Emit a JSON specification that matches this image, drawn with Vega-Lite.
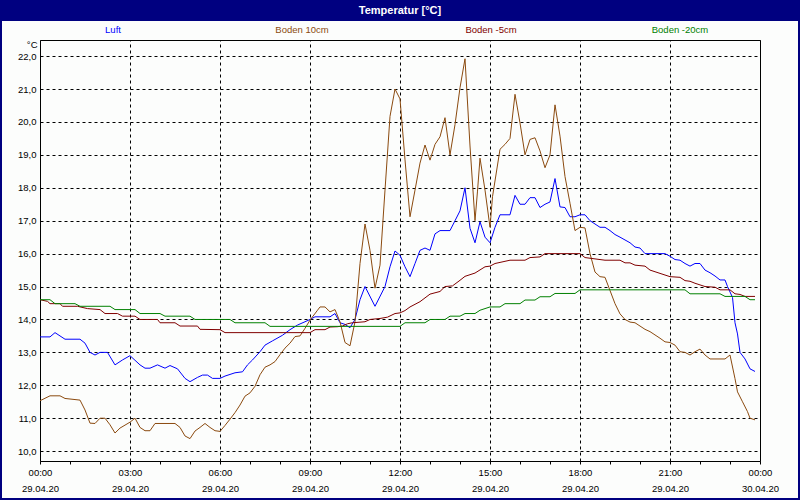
{
"$schema": "https://vega.github.io/schema/vega-lite/v6.json",
"autosize": {"type": "none"},
"width": 796, "height": 477,
"padding": {"left": 2, "top": 21, "right": 2, "bottom": 2},
"background": "#000080",
"title": {"text": "Temperatur [°C]", "color": "#ffffff", "font": "Liberation Sans", "fontSize": 11, "fontWeight": "bold", "anchor": "middle", "frame": "group", "baseline": "middle", "offset": -32},
"config": {"view": {"fill": "#fcfdfc", "stroke": null}, "font": "Liberation Sans"},
"data": {"values": [
{"t":"2020-04-29T00:00","s":"Luft","v":13.47},{"t":"2020-04-29T00:20","s":"Luft","v":13.47},{"t":"2020-04-29T00:30","s":"Luft","v":13.6},{"t":"2020-04-29T00:50","s":"Luft","v":13.4},{"t":"2020-04-29T01:20","s":"Luft","v":13.4},{"t":"2020-04-29T01:30","s":"Luft","v":13.28},{"t":"2020-04-29T01:40","s":"Luft","v":13.0},{"t":"2020-04-29T01:50","s":"Luft","v":12.92},{"t":"2020-04-29T02:00","s":"Luft","v":13.0},{"t":"2020-04-29T02:15","s":"Luft","v":13.0},{"t":"2020-04-29T02:30","s":"Luft","v":12.62},{"t":"2020-04-29T02:45","s":"Luft","v":12.77},{"t":"2020-04-29T03:00","s":"Luft","v":12.9},{"t":"2020-04-29T03:20","s":"Luft","v":12.62},{"t":"2020-04-29T03:30","s":"Luft","v":12.52},{"t":"2020-04-29T03:40","s":"Luft","v":12.52},{"t":"2020-04-29T03:55","s":"Luft","v":12.62},{"t":"2020-04-29T04:10","s":"Luft","v":12.52},{"t":"2020-04-29T04:20","s":"Luft","v":12.6},{"t":"2020-04-29T04:35","s":"Luft","v":12.5},{"t":"2020-04-29T04:50","s":"Luft","v":12.21},{"t":"2020-04-29T05:00","s":"Luft","v":12.11},{"t":"2020-04-29T05:15","s":"Luft","v":12.24},{"t":"2020-04-29T05:25","s":"Luft","v":12.31},{"t":"2020-04-29T05:35","s":"Luft","v":12.31},{"t":"2020-04-29T05:45","s":"Luft","v":12.21},{"t":"2020-04-29T06:00","s":"Luft","v":12.21},{"t":"2020-04-29T06:10","s":"Luft","v":12.28},{"t":"2020-04-29T06:30","s":"Luft","v":12.38},{"t":"2020-04-29T06:45","s":"Luft","v":12.41},{"t":"2020-04-29T06:55","s":"Luft","v":12.62},{"t":"2020-04-29T07:05","s":"Luft","v":12.77},{"t":"2020-04-29T07:20","s":"Luft","v":13.02},{"t":"2020-04-29T07:30","s":"Luft","v":13.22},{"t":"2020-04-29T07:45","s":"Luft","v":13.35},{"t":"2020-04-29T08:05","s":"Luft","v":13.52},{"t":"2020-04-29T08:20","s":"Luft","v":13.69},{"t":"2020-04-29T08:35","s":"Luft","v":13.83},{"t":"2020-04-29T08:50","s":"Luft","v":13.93},{"t":"2020-04-29T09:00","s":"Luft","v":14.0},{"t":"2020-04-29T09:10","s":"Luft","v":14.08},{"t":"2020-04-29T09:40","s":"Luft","v":14.08},{"t":"2020-04-29T09:50","s":"Luft","v":14.18},{"t":"2020-04-29T10:00","s":"Luft","v":13.9},{"t":"2020-04-29T10:10","s":"Luft","v":13.85},{"t":"2020-04-29T10:20","s":"Luft","v":13.75},{"t":"2020-04-29T10:30","s":"Luft","v":14.0},{"t":"2020-04-29T10:40","s":"Luft","v":14.6},{"t":"2020-04-29T10:50","s":"Luft","v":15.0},{"t":"2020-04-29T11:10","s":"Luft","v":14.4},{"t":"2020-04-29T11:30","s":"Luft","v":15.0},{"t":"2020-04-29T11:40","s":"Luft","v":15.6},{"t":"2020-04-29T11:50","s":"Luft","v":16.08},{"t":"2020-04-29T12:00","s":"Luft","v":15.95},{"t":"2020-04-29T12:10","s":"Luft","v":15.6},{"t":"2020-04-29T12:20","s":"Luft","v":15.3},{"t":"2020-04-29T12:30","s":"Luft","v":15.7},{"t":"2020-04-29T12:40","s":"Luft","v":16.1},{"t":"2020-04-29T12:50","s":"Luft","v":16.17},{"t":"2020-04-29T13:00","s":"Luft","v":16.1},{"t":"2020-04-29T13:10","s":"Luft","v":16.6},{"t":"2020-04-29T13:20","s":"Luft","v":16.7},{"t":"2020-04-29T13:40","s":"Luft","v":16.7},{"t":"2020-04-29T13:50","s":"Luft","v":17.0},{"t":"2020-04-29T14:00","s":"Luft","v":17.3},{"t":"2020-04-29T14:10","s":"Luft","v":18.0},{"t":"2020-04-29T14:20","s":"Luft","v":16.77},{"t":"2020-04-29T14:30","s":"Luft","v":16.33},{"t":"2020-04-29T14:40","s":"Luft","v":16.97},{"t":"2020-04-29T14:50","s":"Luft","v":16.5},{"t":"2020-04-29T15:00","s":"Luft","v":16.33},{"t":"2020-04-29T15:10","s":"Luft","v":16.8},{"t":"2020-04-29T15:20","s":"Luft","v":17.18},{"t":"2020-04-29T15:40","s":"Luft","v":17.18},{"t":"2020-04-29T15:50","s":"Luft","v":17.77},{"t":"2020-04-29T16:00","s":"Luft","v":17.5},{"t":"2020-04-29T16:10","s":"Luft","v":17.5},{"t":"2020-04-29T16:20","s":"Luft","v":17.7},{"t":"2020-04-29T16:30","s":"Luft","v":17.7},{"t":"2020-04-29T16:40","s":"Luft","v":17.4},{"t":"2020-04-29T16:50","s":"Luft","v":17.5},{"t":"2020-04-29T17:00","s":"Luft","v":17.57},{"t":"2020-04-29T17:10","s":"Luft","v":18.28},{"t":"2020-04-29T17:20","s":"Luft","v":17.42},{"t":"2020-04-29T17:30","s":"Luft","v":17.4},{"t":"2020-04-29T17:40","s":"Luft","v":17.12},{"t":"2020-04-29T17:50","s":"Luft","v":17.12},{"t":"2020-04-29T18:00","s":"Luft","v":17.18},{"t":"2020-04-29T18:10","s":"Luft","v":17.18},{"t":"2020-04-29T18:20","s":"Luft","v":17.0},{"t":"2020-04-29T18:40","s":"Luft","v":16.8},{"t":"2020-04-29T18:50","s":"Luft","v":16.8},{"t":"2020-04-29T19:00","s":"Luft","v":16.7},{"t":"2020-04-29T19:10","s":"Luft","v":16.58},{"t":"2020-04-29T19:20","s":"Luft","v":16.5},{"t":"2020-04-29T19:40","s":"Luft","v":16.33},{"t":"2020-04-29T19:50","s":"Luft","v":16.2},{"t":"2020-04-29T20:00","s":"Luft","v":16.17},{"t":"2020-04-29T20:10","s":"Luft","v":16.0},{"t":"2020-04-29T20:50","s":"Luft","v":16.0},{"t":"2020-04-29T21:00","s":"Luft","v":15.92},{"t":"2020-04-29T21:10","s":"Luft","v":15.82},{"t":"2020-04-29T21:20","s":"Luft","v":15.8},{"t":"2020-04-29T21:30","s":"Luft","v":15.7},{"t":"2020-04-29T21:40","s":"Luft","v":15.62},{"t":"2020-04-29T21:50","s":"Luft","v":15.7},{"t":"2020-04-29T22:00","s":"Luft","v":15.7},{"t":"2020-04-29T22:10","s":"Luft","v":15.5},{"t":"2020-04-29T22:20","s":"Luft","v":15.42},{"t":"2020-04-29T22:30","s":"Luft","v":15.32},{"t":"2020-04-29T22:40","s":"Luft","v":15.2},{"t":"2020-04-29T22:50","s":"Luft","v":15.2},{"t":"2020-04-29T22:55","s":"Luft","v":15.0},{"t":"2020-04-29T23:05","s":"Luft","v":14.67},{"t":"2020-04-29T23:10","s":"Luft","v":13.9},{"t":"2020-04-29T23:15","s":"Luft","v":13.56},{"t":"2020-04-29T23:20","s":"Luft","v":13.0},{"t":"2020-04-29T23:30","s":"Luft","v":12.8},{"t":"2020-04-29T23:40","s":"Luft","v":12.5},{"t":"2020-04-29T23:50","s":"Luft","v":12.42},
{"t":"2020-04-29T00:00","s":"Boden 10cm","v":11.53},{"t":"2020-04-29T00:20","s":"Boden 10cm","v":11.68},{"t":"2020-04-29T00:40","s":"Boden 10cm","v":11.68},{"t":"2020-04-29T00:50","s":"Boden 10cm","v":11.6},{"t":"2020-04-29T01:20","s":"Boden 10cm","v":11.55},{"t":"2020-04-29T01:30","s":"Boden 10cm","v":11.25},{"t":"2020-04-29T01:40","s":"Boden 10cm","v":10.85},{"t":"2020-04-29T01:50","s":"Boden 10cm","v":10.84},{"t":"2020-04-29T02:00","s":"Boden 10cm","v":11.0},{"t":"2020-04-29T02:10","s":"Boden 10cm","v":11.0},{"t":"2020-04-29T02:20","s":"Boden 10cm","v":10.8},{"t":"2020-04-29T02:30","s":"Boden 10cm","v":10.55},{"t":"2020-04-29T02:40","s":"Boden 10cm","v":10.7},{"t":"2020-04-29T03:00","s":"Boden 10cm","v":10.88},{"t":"2020-04-29T03:10","s":"Boden 10cm","v":11.0},{"t":"2020-04-29T03:20","s":"Boden 10cm","v":10.72},{"t":"2020-04-29T03:30","s":"Boden 10cm","v":10.62},{"t":"2020-04-29T03:40","s":"Boden 10cm","v":10.62},{"t":"2020-04-29T03:50","s":"Boden 10cm","v":10.84},{"t":"2020-04-29T04:30","s":"Boden 10cm","v":10.84},{"t":"2020-04-29T04:40","s":"Boden 10cm","v":10.72},{"t":"2020-04-29T04:50","s":"Boden 10cm","v":10.46},{"t":"2020-04-29T05:00","s":"Boden 10cm","v":10.38},{"t":"2020-04-29T05:10","s":"Boden 10cm","v":10.61},{"t":"2020-04-29T05:20","s":"Boden 10cm","v":10.72},{"t":"2020-04-29T05:30","s":"Boden 10cm","v":10.84},{"t":"2020-04-29T05:40","s":"Boden 10cm","v":10.72},{"t":"2020-04-29T05:50","s":"Boden 10cm","v":10.62},{"t":"2020-04-29T06:00","s":"Boden 10cm","v":10.6},{"t":"2020-04-29T06:10","s":"Boden 10cm","v":10.78},{"t":"2020-04-29T06:20","s":"Boden 10cm","v":10.97},{"t":"2020-04-29T06:30","s":"Boden 10cm","v":11.17},{"t":"2020-04-29T06:40","s":"Boden 10cm","v":11.4},{"t":"2020-04-29T06:50","s":"Boden 10cm","v":11.67},{"t":"2020-04-29T07:00","s":"Boden 10cm","v":11.77},{"t":"2020-04-29T07:10","s":"Boden 10cm","v":11.97},{"t":"2020-04-29T07:20","s":"Boden 10cm","v":12.32},{"t":"2020-04-29T07:30","s":"Boden 10cm","v":12.55},{"t":"2020-04-29T07:40","s":"Boden 10cm","v":12.62},{"t":"2020-04-29T07:50","s":"Boden 10cm","v":12.72},{"t":"2020-04-29T08:00","s":"Boden 10cm","v":12.93},{"t":"2020-04-29T08:10","s":"Boden 10cm","v":13.13},{"t":"2020-04-29T08:20","s":"Boden 10cm","v":13.28},{"t":"2020-04-29T08:30","s":"Boden 10cm","v":13.48},{"t":"2020-04-29T08:40","s":"Boden 10cm","v":13.5},{"t":"2020-04-29T08:50","s":"Boden 10cm","v":13.73},{"t":"2020-04-29T09:00","s":"Boden 10cm","v":13.98},{"t":"2020-04-29T09:15","s":"Boden 10cm","v":14.28},{"t":"2020-04-29T09:20","s":"Boden 10cm","v":14.38},{"t":"2020-04-29T09:30","s":"Boden 10cm","v":14.38},{"t":"2020-04-29T09:40","s":"Boden 10cm","v":14.23},{"t":"2020-04-29T09:50","s":"Boden 10cm","v":14.3},{"t":"2020-04-29T10:00","s":"Boden 10cm","v":13.93},{"t":"2020-04-29T10:10","s":"Boden 10cm","v":13.3},{"t":"2020-04-29T10:20","s":"Boden 10cm","v":13.2},{"t":"2020-04-29T10:30","s":"Boden 10cm","v":13.93},{"t":"2020-04-29T10:40","s":"Boden 10cm","v":15.7},{"t":"2020-04-29T10:50","s":"Boden 10cm","v":16.9},{"t":"2020-04-29T11:00","s":"Boden 10cm","v":16.1},{"t":"2020-04-29T11:10","s":"Boden 10cm","v":14.95},{"t":"2020-04-29T11:20","s":"Boden 10cm","v":15.65},{"t":"2020-04-29T11:30","s":"Boden 10cm","v":17.93},{"t":"2020-04-29T11:40","s":"Boden 10cm","v":20.17},{"t":"2020-04-29T11:50","s":"Boden 10cm","v":21.0},{"t":"2020-04-29T12:00","s":"Boden 10cm","v":20.7},{"t":"2020-04-29T12:10","s":"Boden 10cm","v":18.85},{"t":"2020-04-29T12:20","s":"Boden 10cm","v":17.12},{"t":"2020-04-29T12:30","s":"Boden 10cm","v":17.93},{"t":"2020-04-29T12:40","s":"Boden 10cm","v":18.75},{"t":"2020-04-29T12:50","s":"Boden 10cm","v":19.3},{"t":"2020-04-29T13:00","s":"Boden 10cm","v":18.84},{"t":"2020-04-29T13:10","s":"Boden 10cm","v":19.32},{"t":"2020-04-29T13:20","s":"Boden 10cm","v":19.55},{"t":"2020-04-29T13:30","s":"Boden 10cm","v":20.13},{"t":"2020-04-29T13:40","s":"Boden 10cm","v":19.0},{"t":"2020-04-29T13:50","s":"Boden 10cm","v":19.92},{"t":"2020-04-29T14:00","s":"Boden 10cm","v":21.04},{"t":"2020-04-29T14:10","s":"Boden 10cm","v":21.92},{"t":"2020-04-29T14:20","s":"Boden 10cm","v":19.27},{"t":"2020-04-29T14:30","s":"Boden 10cm","v":17.0},{"t":"2020-04-29T14:35","s":"Boden 10cm","v":17.9},{"t":"2020-04-29T14:40","s":"Boden 10cm","v":18.9},{"t":"2020-04-29T14:50","s":"Boden 10cm","v":17.93},{"t":"2020-04-29T15:00","s":"Boden 10cm","v":16.8},{"t":"2020-04-29T15:05","s":"Boden 10cm","v":17.73},{"t":"2020-04-29T15:20","s":"Boden 10cm","v":19.17},{"t":"2020-04-29T15:30","s":"Boden 10cm","v":19.32},{"t":"2020-04-29T15:40","s":"Boden 10cm","v":19.5},{"t":"2020-04-29T15:50","s":"Boden 10cm","v":20.84},{"t":"2020-04-29T16:00","s":"Boden 10cm","v":19.97},{"t":"2020-04-29T16:10","s":"Boden 10cm","v":19.0},{"t":"2020-04-29T16:20","s":"Boden 10cm","v":19.47},{"t":"2020-04-29T16:30","s":"Boden 10cm","v":19.52},{"t":"2020-04-29T16:40","s":"Boden 10cm","v":19.12},{"t":"2020-04-29T16:50","s":"Boden 10cm","v":18.61},{"t":"2020-04-29T17:00","s":"Boden 10cm","v":19.0},{"t":"2020-04-29T17:10","s":"Boden 10cm","v":20.52},{"t":"2020-04-29T17:20","s":"Boden 10cm","v":19.57},{"t":"2020-04-29T17:30","s":"Boden 10cm","v":18.34},{"t":"2020-04-29T17:40","s":"Boden 10cm","v":17.53},{"t":"2020-04-29T17:50","s":"Boden 10cm","v":16.7},{"t":"2020-04-29T18:00","s":"Boden 10cm","v":16.8},{"t":"2020-04-29T18:10","s":"Boden 10cm","v":16.78},{"t":"2020-04-29T18:20","s":"Boden 10cm","v":16.0},{"t":"2020-04-29T18:30","s":"Boden 10cm","v":15.44},{"t":"2020-04-29T18:40","s":"Boden 10cm","v":15.3},{"t":"2020-04-29T18:50","s":"Boden 10cm","v":15.28},{"t":"2020-04-29T19:00","s":"Boden 10cm","v":14.88},{"t":"2020-04-29T19:10","s":"Boden 10cm","v":14.48},{"t":"2020-04-29T19:20","s":"Boden 10cm","v":14.17},{"t":"2020-04-29T19:30","s":"Boden 10cm","v":14.0},{"t":"2020-04-29T19:40","s":"Boden 10cm","v":13.92},{"t":"2020-04-29T19:50","s":"Boden 10cm","v":13.9},{"t":"2020-04-29T20:00","s":"Boden 10cm","v":13.8},{"t":"2020-04-29T20:10","s":"Boden 10cm","v":13.7},{"t":"2020-04-29T20:20","s":"Boden 10cm","v":13.63},{"t":"2020-04-29T20:30","s":"Boden 10cm","v":13.53},{"t":"2020-04-29T20:40","s":"Boden 10cm","v":13.43},{"t":"2020-04-29T20:50","s":"Boden 10cm","v":13.32},{"t":"2020-04-29T21:00","s":"Boden 10cm","v":13.3},{"t":"2020-04-29T21:10","s":"Boden 10cm","v":13.22},{"t":"2020-04-29T21:20","s":"Boden 10cm","v":13.02},{"t":"2020-04-29T21:30","s":"Boden 10cm","v":13.0},{"t":"2020-04-29T21:40","s":"Boden 10cm","v":12.92},{"t":"2020-04-29T21:50","s":"Boden 10cm","v":13.02},{"t":"2020-04-29T22:00","s":"Boden 10cm","v":13.1},{"t":"2020-04-29T22:10","s":"Boden 10cm","v":12.92},{"t":"2020-04-29T22:20","s":"Boden 10cm","v":12.8},{"t":"2020-04-29T22:50","s":"Boden 10cm","v":12.8},{"t":"2020-04-29T23:00","s":"Boden 10cm","v":12.92},{"t":"2020-04-29T23:10","s":"Boden 10cm","v":12.2},{"t":"2020-04-29T23:15","s":"Boden 10cm","v":11.8},{"t":"2020-04-29T23:25","s":"Boden 10cm","v":11.5},{"t":"2020-04-29T23:35","s":"Boden 10cm","v":11.2},{"t":"2020-04-29T23:40","s":"Boden 10cm","v":11.0},{"t":"2020-04-29T23:50","s":"Boden 10cm","v":10.95},
{"t":"2020-04-29T00:00","s":"Boden -5cm","v":14.6},{"t":"2020-04-29T00:15","s":"Boden -5cm","v":14.55},{"t":"2020-04-29T00:20","s":"Boden -5cm","v":14.48},{"t":"2020-04-29T00:40","s":"Boden -5cm","v":14.48},{"t":"2020-04-29T00:45","s":"Boden -5cm","v":14.4},{"t":"2020-04-29T01:15","s":"Boden -5cm","v":14.4},{"t":"2020-04-29T01:35","s":"Boden -5cm","v":14.33},{"t":"2020-04-29T02:00","s":"Boden -5cm","v":14.3},{"t":"2020-04-29T02:10","s":"Boden -5cm","v":14.18},{"t":"2020-04-29T02:35","s":"Boden -5cm","v":14.18},{"t":"2020-04-29T02:45","s":"Boden -5cm","v":14.1},{"t":"2020-04-29T03:10","s":"Boden -5cm","v":14.1},{"t":"2020-04-29T03:20","s":"Boden -5cm","v":14.0},{"t":"2020-04-29T03:55","s":"Boden -5cm","v":14.0},{"t":"2020-04-29T04:00","s":"Boden -5cm","v":13.9},{"t":"2020-04-29T04:30","s":"Boden -5cm","v":13.9},{"t":"2020-04-29T04:40","s":"Boden -5cm","v":13.8},{"t":"2020-04-29T05:15","s":"Boden -5cm","v":13.8},{"t":"2020-04-29T05:20","s":"Boden -5cm","v":13.7},{"t":"2020-04-29T06:00","s":"Boden -5cm","v":13.69},{"t":"2020-04-29T06:10","s":"Boden -5cm","v":13.6},{"t":"2020-04-29T09:00","s":"Boden -5cm","v":13.6},{"t":"2020-04-29T09:10","s":"Boden -5cm","v":13.69},{"t":"2020-04-29T09:30","s":"Boden -5cm","v":13.69},{"t":"2020-04-29T09:40","s":"Boden -5cm","v":13.77},{"t":"2020-04-29T09:55","s":"Boden -5cm","v":13.78},{"t":"2020-04-29T10:05","s":"Boden -5cm","v":13.8},{"t":"2020-04-29T10:15","s":"Boden -5cm","v":13.87},{"t":"2020-04-29T10:25","s":"Boden -5cm","v":13.9},{"t":"2020-04-29T10:50","s":"Boden -5cm","v":13.93},{"t":"2020-04-29T11:00","s":"Boden -5cm","v":14.0},{"t":"2020-04-29T11:20","s":"Boden -5cm","v":14.03},{"t":"2020-04-29T11:35","s":"Boden -5cm","v":14.07},{"t":"2020-04-29T11:50","s":"Boden -5cm","v":14.18},{"t":"2020-04-29T12:00","s":"Boden -5cm","v":14.2},{"t":"2020-04-29T12:10","s":"Boden -5cm","v":14.27},{"t":"2020-04-29T12:20","s":"Boden -5cm","v":14.38},{"t":"2020-04-29T12:40","s":"Boden -5cm","v":14.54},{"t":"2020-04-29T13:00","s":"Boden -5cm","v":14.77},{"t":"2020-04-29T13:20","s":"Boden -5cm","v":14.85},{"t":"2020-04-29T13:30","s":"Boden -5cm","v":15.0},{"t":"2020-04-29T13:45","s":"Boden -5cm","v":15.02},{"t":"2020-04-29T14:00","s":"Boden -5cm","v":15.19},{"t":"2020-04-29T14:10","s":"Boden -5cm","v":15.31},{"t":"2020-04-29T14:30","s":"Boden -5cm","v":15.41},{"t":"2020-04-29T14:50","s":"Boden -5cm","v":15.6},{"t":"2020-04-29T15:00","s":"Boden -5cm","v":15.62},{"t":"2020-04-29T15:10","s":"Boden -5cm","v":15.7},{"t":"2020-04-29T15:40","s":"Boden -5cm","v":15.8},{"t":"2020-04-29T16:10","s":"Boden -5cm","v":15.8},{"t":"2020-04-29T16:20","s":"Boden -5cm","v":15.88},{"t":"2020-04-29T16:40","s":"Boden -5cm","v":15.9},{"t":"2020-04-29T16:50","s":"Boden -5cm","v":16.0},{"t":"2020-04-29T18:00","s":"Boden -5cm","v":16.0},{"t":"2020-04-29T18:10","s":"Boden -5cm","v":15.88},{"t":"2020-04-29T18:50","s":"Boden -5cm","v":15.8},{"t":"2020-04-29T19:20","s":"Boden -5cm","v":15.8},{"t":"2020-04-29T19:30","s":"Boden -5cm","v":15.72},{"t":"2020-04-29T19:40","s":"Boden -5cm","v":15.72},{"t":"2020-04-29T19:50","s":"Boden -5cm","v":15.65},{"t":"2020-04-29T20:10","s":"Boden -5cm","v":15.62},{"t":"2020-04-29T20:20","s":"Boden -5cm","v":15.5},{"t":"2020-04-29T20:40","s":"Boden -5cm","v":15.4},{"t":"2020-04-29T21:00","s":"Boden -5cm","v":15.3},{"t":"2020-04-29T21:20","s":"Boden -5cm","v":15.28},{"t":"2020-04-29T21:30","s":"Boden -5cm","v":15.18},{"t":"2020-04-29T21:40","s":"Boden -5cm","v":15.16},{"t":"2020-04-29T21:50","s":"Boden -5cm","v":15.1},{"t":"2020-04-29T22:10","s":"Boden -5cm","v":15.0},{"t":"2020-04-29T22:30","s":"Boden -5cm","v":14.98},{"t":"2020-04-29T22:40","s":"Boden -5cm","v":14.9},{"t":"2020-04-29T23:00","s":"Boden -5cm","v":14.9},{"t":"2020-04-29T23:10","s":"Boden -5cm","v":14.78},{"t":"2020-04-29T23:20","s":"Boden -5cm","v":14.76},{"t":"2020-04-29T23:30","s":"Boden -5cm","v":14.7},{"t":"2020-04-29T23:50","s":"Boden -5cm","v":14.7},
{"t":"2020-04-29T00:00","s":"Boden -20cm","v":14.6},{"t":"2020-04-29T00:20","s":"Boden -20cm","v":14.6},{"t":"2020-04-29T00:30","s":"Boden -20cm","v":14.48},{"t":"2020-04-29T01:10","s":"Boden -20cm","v":14.48},{"t":"2020-04-29T01:20","s":"Boden -20cm","v":14.4},{"t":"2020-04-29T02:20","s":"Boden -20cm","v":14.4},{"t":"2020-04-29T02:30","s":"Boden -20cm","v":14.3},{"t":"2020-04-29T03:10","s":"Boden -20cm","v":14.3},{"t":"2020-04-29T03:20","s":"Boden -20cm","v":14.18},{"t":"2020-04-29T04:00","s":"Boden -20cm","v":14.18},{"t":"2020-04-29T04:10","s":"Boden -20cm","v":14.1},{"t":"2020-04-29T05:00","s":"Boden -20cm","v":14.1},{"t":"2020-04-29T05:10","s":"Boden -20cm","v":14.0},{"t":"2020-04-29T06:20","s":"Boden -20cm","v":14.0},{"t":"2020-04-29T06:30","s":"Boden -20cm","v":13.9},{"t":"2020-04-29T07:30","s":"Boden -20cm","v":13.9},{"t":"2020-04-29T07:40","s":"Boden -20cm","v":13.79},{"t":"2020-04-29T12:00","s":"Boden -20cm","v":13.79},{"t":"2020-04-29T12:10","s":"Boden -20cm","v":13.9},{"t":"2020-04-29T12:50","s":"Boden -20cm","v":13.9},{"t":"2020-04-29T13:00","s":"Boden -20cm","v":14.0},{"t":"2020-04-29T13:30","s":"Boden -20cm","v":14.0},{"t":"2020-04-29T13:40","s":"Boden -20cm","v":14.1},{"t":"2020-04-29T14:00","s":"Boden -20cm","v":14.1},{"t":"2020-04-29T14:10","s":"Boden -20cm","v":14.18},{"t":"2020-04-29T14:30","s":"Boden -20cm","v":14.18},{"t":"2020-04-29T14:40","s":"Boden -20cm","v":14.28},{"t":"2020-04-29T15:00","s":"Boden -20cm","v":14.38},{"t":"2020-04-29T15:20","s":"Boden -20cm","v":14.38},{"t":"2020-04-29T15:30","s":"Boden -20cm","v":14.48},{"t":"2020-04-29T16:00","s":"Boden -20cm","v":14.48},{"t":"2020-04-29T16:10","s":"Boden -20cm","v":14.59},{"t":"2020-04-29T16:30","s":"Boden -20cm","v":14.59},{"t":"2020-04-29T16:40","s":"Boden -20cm","v":14.69},{"t":"2020-04-29T17:00","s":"Boden -20cm","v":14.69},{"t":"2020-04-29T17:10","s":"Boden -20cm","v":14.79},{"t":"2020-04-29T17:50","s":"Boden -20cm","v":14.79},{"t":"2020-04-29T18:00","s":"Boden -20cm","v":14.9},{"t":"2020-04-29T21:30","s":"Boden -20cm","v":14.9},{"t":"2020-04-29T21:40","s":"Boden -20cm","v":14.78},{"t":"2020-04-29T22:40","s":"Boden -20cm","v":14.78},{"t":"2020-04-29T22:50","s":"Boden -20cm","v":14.7},{"t":"2020-04-29T23:30","s":"Boden -20cm","v":14.7},{"t":"2020-04-29T23:40","s":"Boden -20cm","v":14.6},{"t":"2020-04-29T23:50","s":"Boden -20cm","v":14.6}
]},
"layer": [
{
"mark": {"type": "line", "strokeWidth": 1},
"encoding": {
"x": {"field": "t", "type": "temporal",
"scale": {"domain": [{"year": 2020, "month": 4, "date": 29, "hours": 0}, {"year": 2020, "month": 4, "date": 30, "hours": 0}], "range": [38, 758], "nice": false},
"axis": {"orient": "bottom", "offset": -37, "title": null, "tickCount": 24,
"labelExpr": "hours(datum.value) % 3 == 0 ? [timeFormat(datum.value, '%H:%M'), timeFormat(datum.value, '%d.%m.%y')] : ''",
"labelOverlap": false, "labelFlush": false, "labelBound": false, "labelAngle": 0,
"labelFont": "Liberation Sans", "labelFontSize": 9.5, "labelColor": "#000000", "labelLineHeight": 16, "labelBaseline": "top", "labelPadding": 3,
"domain": true, "domainColor": "#000000", "domainWidth": 1,
"ticks": true, "tickColor": "#000000", "tickSize": 3, "tickWidth": 1,
"grid": false}},
"y": {"field": "v", "type": "quantitative",
"scale": {"domain": [9.7, 22.49], "range": [440, 19], "nice": false, "zero": false},
"axis": {"orient": "left", "offset": -38, "values": [10, 11, 12, 13, 14, 15, 16, 17, 18, 19, 20, 21, 22],
"labelExpr": "replace(format(datum.value, '.1f'), '.', ',')",
"labelFont": "Liberation Sans", "labelFontSize": 9.5, "labelColor": "#000000", "labelPadding": 4,
"domain": true, "domainColor": "#000000", "domainWidth": 1, "ticks": false,
"grid": true, "gridColor": "#000000", "gridDash": [3, 3], "gridWidth": 1,
"title": "°C", "titleAngle": 0, "titleAlign": "right", "titleBaseline": "middle", "titleX": -3, "titleY": 23.5,
"titleFont": "Liberation Sans", "titleFontSize": 9.5, "titleFontWeight": "normal", "titleColor": "#000000"}},
"color": {"field": "s", "type": "nominal",
"scale": {"domain": ["Luft", "Boden 10cm", "Boden -5cm", "Boden -20cm"], "range": ["#0000ff", "#8b4a0f", "#800000", "#008000"]},
"legend": {"orient": "none", "legendX": 71, "legendY": -31, "direction": "horizontal", "columns": 4, "gridAlign": "all", "columnPadding": 109, "padding": 0, "title": null,
"symbolType": "M-1,-0.05L1,-0.05L1,0.05L-1,0.05Z", "symbolSize": 6400, "symbolOpacity": 0, "symbolStrokeWidth": 0,
"labelOffset": -40, "labelAlign": "center", "labelBaseline": "middle", "labelFont": "Liberation Sans", "labelFontSize": 9.5,
"encode": {"labels": {"update": {"fill": {"scale": "color", "field": "value"}}}}}}
}
},
{
"mark": {"type": "line", "opacity": 0},
"encoding": {
"x": {"field": "t", "type": "temporal",
"scale": {"domain": [{"year": 2020, "month": 4, "date": 29, "hours": 0}, {"year": 2020, "month": 4, "date": 30, "hours": 0}], "range": [38, 758], "nice": false},
"axis": {"orient": "top", "offset": -19, "title": null, "labels": false, "ticks": false, "tickCount": 8, "grid": true, "gridColor": "#000000", "gridDash": [3, 3], "gridWidth": 1, "domain": true, "domainColor": "#000000", "domainWidth": 1}},
"y": {"field": "v", "type": "quantitative",
"scale": {"domain": [9.7, 22.49], "range": [440, 19], "nice": false, "zero": false},
"axis": {"orient": "right", "offset": -38, "title": null, "labels": false, "ticks": false, "grid": false, "domain": true, "domainColor": "#000000", "domainWidth": 1}},
"detail": {"field": "s", "type": "nominal"}
}
}
],
"resolve": {"axis": {"x": "independent", "y": "independent"}}
}
